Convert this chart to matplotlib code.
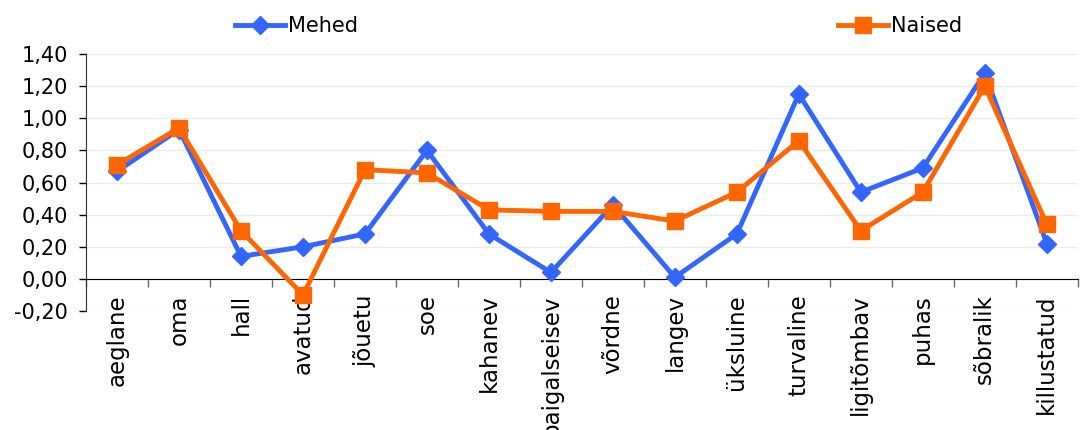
import numpy as np
import matplotlib
matplotlib.use('Agg')
import matplotlib.pyplot as plt
from matplotlib.ticker import FixedLocator, FixedFormatter, FuncFormatter

# data
categories = ['aeglane', 'oma', 'hall', 'avatud', 'jõuetu', 'soe', 'kahanev',
              'paigalseisev', 'võrdne', 'langev', 'üksluine', 'turvaline',
              'ligitõmbav', 'puhas', 'sõbralik', 'killustatud']
mehed = [0.67, 0.93, 0.14, 0.20, 0.28, 0.80, 0.28, 0.04,
         0.46, 0.01, 0.28, 1.15, 0.54, 0.69, 1.28, 0.22]
naised = [0.71, 0.94, 0.30, -0.10, 0.68, 0.66, 0.43, 0.42,
          0.42, 0.36, 0.54, 0.86, 0.30, 0.54, 1.20, 0.34]
yticks = [-0.20, 0.00, 0.20, 0.40, 0.60, 0.80, 1.00, 1.20, 1.40]

plt.rcParams['font.family'] = ['DejaVu Sans']
fs = 15

fig = plt.figure(figsize=(10.81, 4.30), dpi=100)
ax = fig.add_axes([0.0796, 0.2767, 0.9174, 0.5977])

x = np.arange(len(categories))
l1, = ax.plot(x, mehed, color='#3366FF', lw=3.5, marker='D', ms=9.5,
              mec='#3366FF', mfc='#3366FF', label='Mehed', zorder=3,
              clip_on=False)
l2, = ax.plot(x, naised, color='#FF6600', lw=3.5, marker='s', ms=11,
              mec='#FF6600', mfc='#FF6600', label='Naised', zorder=4,
              clip_on=False)

ax.set_xlim(-0.5, len(categories) - 0.5)
ax.set_ylim(-0.2, 1.4)
ax.set_yticks(yticks)
ax.yaxis.set_major_formatter(FuncFormatter(lambda v, p: '{:.2f}'.format(v).replace('.', ',')))
ax.tick_params(axis='y', labelsize=fs, length=5, width=1, pad=8)
ax.grid(axis='y', color='#EBEBEB', lw=1, zorder=0)
ax.set_axisbelow(True)

# category boundaries as major ticks, labels on minor ticks
ax.xaxis.set_major_locator(FixedLocator(np.arange(-0.5, len(categories), 1.0)))
ax.xaxis.set_major_formatter(FuncFormatter(lambda v, p: ''))
ax.xaxis.set_minor_locator(FixedLocator(x))
ax.xaxis.set_minor_formatter(FixedFormatter(categories))
ax.tick_params(axis='x', which='major', length=5.5, width=1, color='#666666')
ax.tick_params(axis='x', which='minor', length=0, pad=11,
               labelsize=16.5, labelrotation=90)
for lbl in ax.xaxis.get_minorticklabels():
    lbl.set_va('top')
    lbl.set_ha('center')

ax.spines['bottom'].set_position(('data', 0))
ax.spines['top'].set_visible(False)
ax.spines['right'].set_visible(False)
ax.spines['left'].set_color('#333333')
ax.spines['bottom'].set_color('#000000')

fig.legend(handles=[l1], loc='center left', bbox_to_anchor=(0.217, 0.94),
           frameon=False, fontsize=fs, handlelength=2.4, handletextpad=0.15,
           borderaxespad=0, borderpad=0)
fig.legend(handles=[l2], loc='center left', bbox_to_anchor=(0.775, 0.94),
           frameon=False, fontsize=fs, handlelength=2.4, handletextpad=0.15,
           borderaxespad=0, borderpad=0)

fig.savefig('out.png', dpi=100)
